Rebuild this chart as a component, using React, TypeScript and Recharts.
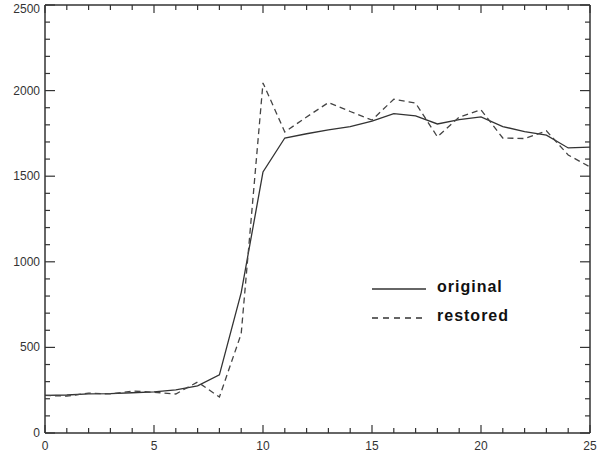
import React from 'react';
import { LineChart, Line, XAxis, YAxis, Legend } from 'recharts';

// sample index along the x axis
const xValues = [0, 1, 2, 3, 4, 5, 6, 7, 8, 9, 10, 11, 12, 13, 14, 15, 16, 17, 18, 19, 20, 21, 22, 23, 24, 25];

// solid curve
const original = [220, 222, 228, 230, 235, 240, 252, 275, 340, 820, 1525, 1723, 1748, 1770, 1790, 1822, 1865, 1852, 1805, 1830, 1846, 1790, 1760, 1740, 1665, 1670];

// dashed curve
const restored = [220, 215, 233, 228, 245, 238, 228, 298, 210, 580, 2045, 1758, 1846, 1930, 1878, 1828, 1950, 1927, 1730, 1845, 1888, 1723, 1720, 1765, 1624, 1554];

const xTicks = [0, 1, 2, 3, 4, 5, 6, 7, 8, 9, 10, 11, 12, 13, 14, 15, 16, 17, 18, 19, 20, 21, 22, 23, 24, 25];
const yTicks = [0, 100, 200, 300, 400, 500, 600, 700, 800, 900, 1000, 1100, 1200, 1300, 1400, 1500, 1600, 1700, 1800, 1900, 2000, 2100, 2200, 2300, 2400, 2500];

const chartData = xValues.map((x, i) => ({ x, original: original[i], restored: restored[i] }));

const INK = '#333';
const labelFont = 'Arial, "Liberation Sans", Helvetica, sans-serif';

// ticks drawn inward, labels only on the major ones
const XTick = (props: any) => {
  const { x, y, payload, top } = props;
  const major = payload.value % 5 === 0;
  const len = major ? 8 : 5;
  return (
    <g>
      <line x1={x} x2={x} y1={y} y2={top ? y + len : y - len} stroke={INK} strokeWidth={1.2} />
      {!top && major && (
        <text x={x} y={y + 17} textAnchor="middle" fontSize={12} fill={INK} fontFamily={labelFont}>
          {payload.value}
        </text>
      )}
    </g>
  );
};

const YTick = (props: any) => {
  const { x, y, payload, right } = props;
  const major = payload.value % 500 === 0;
  const len = major ? 10 : 5;
  return (
    <g>
      <line x1={x} x2={right ? x - len : x + len} y1={y} y2={y} stroke={INK} strokeWidth={1.2} />
      {!right && major && (
        <text x={x - 5} y={Math.max(y + 4, 13)} textAnchor="end" fontSize={12} fill={INK} fontFamily={labelFont}>
          {payload.value}
        </text>
      )}
    </g>
  );
};

const legendRows = [
  { name: 'original', dash: undefined },
  { name: 'restored', dash: '6 5' },
];

const LegendBox = () => (
  <div style={{ width: 170 }}>
    {legendRows.map(r => (
      <div key={r.name} style={{ display: 'flex', alignItems: 'center', height: 29 }}>
        <svg width={54} height={4} style={{ marginRight: 11 }}>
          <line x1={0} x2={54} y1={2} y2={2} stroke={INK} strokeWidth={1.3} strokeDasharray={r.dash} />
        </svg>
        <span style={{ fontFamily: labelFont, fontWeight: 'bold', fontSize: 16, letterSpacing: 1, color: '#111', lineHeight: '16px', marginTop: -3 }}>
          {r.name}
        </span>
      </div>
    ))}
  </div>
);

export default function App() {
  return (
    <div style={{ position: 'fixed', left: 0, top: 0, width: 605, height: 455, background: '#fff' }}>
      <LineChart width={605} height={455} data={chartData} margin={{ top: 4, right: 14, bottom: 0, left: 0 }}>
        <XAxis
          dataKey="x"
          type="number"
          domain={[0, 25]}
          ticks={xTicks}
          interval={0}
          height={22}
          tickSize={0}
          tickMargin={0}
          tickLine={false}
          axisLine={{ stroke: INK, strokeWidth: 1.5 }}
          tick={(p: any) => <XTick {...p} />}
        />
        <XAxis
          xAxisId="top"
          dataKey="x"
          orientation="top"
          type="number"
          domain={[0, 25]}
          ticks={xTicks}
          interval={0}
          height={1}
          tickSize={0}
          tickMargin={0}
          tickLine={false}
          axisLine={{ stroke: INK, strokeWidth: 1.5 }}
          tick={(p: any) => <XTick {...p} top />}
        />
        <YAxis
          type="number"
          domain={[0, 2500]}
          ticks={yTicks}
          interval={0}
          width={45}
          tickSize={0}
          tickMargin={0}
          tickLine={false}
          axisLine={{ stroke: INK, strokeWidth: 1.5 }}
          tick={(p: any) => <YTick {...p} />}
        />
        <YAxis
          yAxisId="right"
          orientation="right"
          type="number"
          domain={[0, 2500]}
          ticks={yTicks}
          interval={0}
          width={1}
          tickSize={0}
          tickMargin={0}
          tickLine={false}
          axisLine={{ stroke: INK, strokeWidth: 1.5 }}
          tick={(p: any) => <YTick {...p} right />}
        />
        <Legend
          layout="vertical"
          align="center"
          verticalAlign="middle"
          content={() => <LegendBox />}
          wrapperStyle={{ left: 372, top: 274, width: 170 }}
        />
        <Line type="linear" dataKey="original" stroke={INK} strokeWidth={1.3} dot={false} isAnimationActive={false} />
        <Line type="linear" dataKey="restored" stroke="#444" strokeWidth={1.3} strokeDasharray="6 4" dot={false} isAnimationActive={false} />
        {/* invisible copies so the top and right axes get drawn */}
        <Line xAxisId="top" yAxisId="right" dataKey="original" stroke="none" dot={false} activeDot={false} legendType="none" isAnimationActive={false} />
      </LineChart>
    </div>
  );
}
